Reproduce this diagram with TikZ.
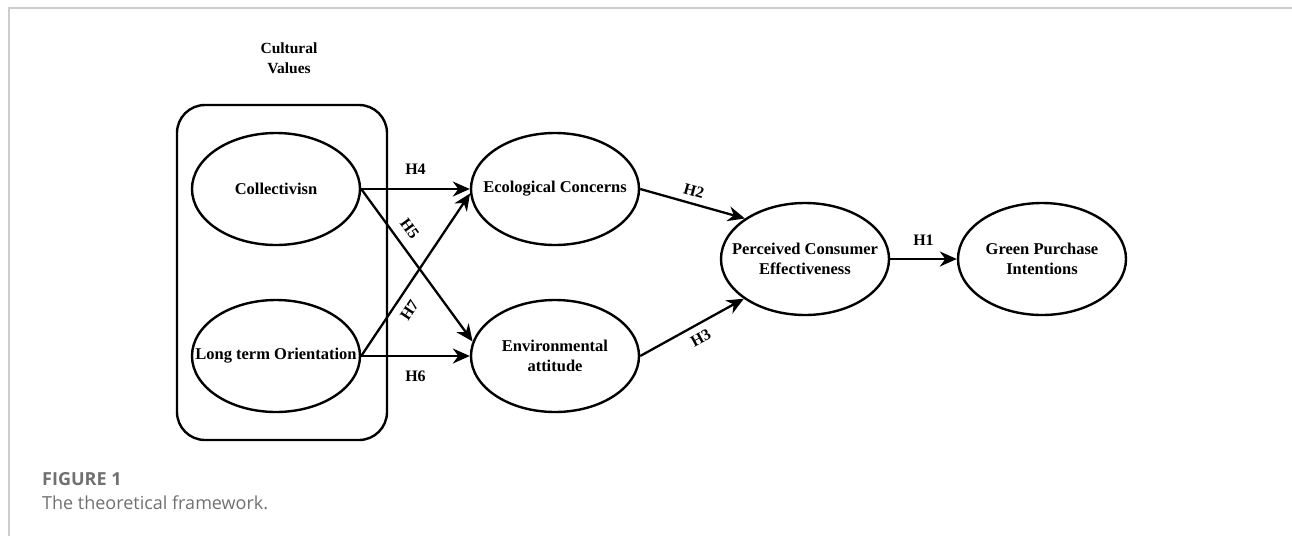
\documentclass[tikz,border=0pt]{standalone}
\usepackage{fontspec}
\setmainfont{Liberation Serif}
\newfontfamily\capfont{Open Sans}
\usetikzlibrary{shapes.geometric,arrows.meta}
\definecolor{framegray}{RGB}{205,205,205}
\definecolor{capgray}{RGB}{112,112,114}

\begin{document}
\begin{tikzpicture}[node distance=167pt, font=\bfseries\fontsize{16.5}{20}\selectfont]

\tikzstyle{el} = [ellipse, minimum width=168pt, minimum height=112pt, inner xsep=-50pt, inner ysep=-12pt, align=center, draw=black, line width=2.4pt]
\tikzstyle{arr} = [-{Stealth[length=17pt,width=15pt]}, line width=2.3pt]
\tikzstyle{hyp} = [font=\bfseries\fontsize{16}{20}\selectfont]
\tikzstyle{captext} = [anchor=base west, inner sep=0pt, text=capgray]

\useasboundingbox (0,0) rectangle (1292pt,-536pt);
\draw[framegray, line width=1.5pt] (9pt,-536pt) -- (9pt,-8pt) -- (1292pt,-8pt);

\node (cult) at (289pt,-58pt) [align=center, font=\bfseries\fontsize{15.5}{20}\selectfont] {Cultural\\Values};
\node (cvbox) at (282pt,-272.5pt) [draw, rounded corners=28pt, minimum width=210pt, minimum height=335pt, line width=2.4pt] {};
\node (coll) at (276pt,-189pt) [el] {Collectivisn};
\node (lto) [el, below of=coll] {Long term Orientation};
\node (eco) [el, right of=coll, node distance=279pt] {Ecological Concerns};
\node (env) [el, below of=eco] {Environmental\\attitude};
\node (perc) [el, right of=eco, node distance=250pt, yshift=-70pt] {Perceived Consumer\\Effectiveness};
\node (green) [el, right of=perc, node distance=237pt] {Green Purchase\\Intentions};

\draw[arr] (coll.east) -- node[hyp, above=10pt] {H4} (eco.west);
\draw[arr] (coll.east) -- node[hyp, sloped, above=6pt, pos=0.32] {H5} (env.170);
\draw[arr] (lto.east) -- node[hyp, sloped, below=5pt, pos=0.33] {H7} (eco.183);
\draw[arr] (lto.east) -- node[hyp, below=10pt] {H6} (env.west);
\draw[arr] (eco.east) -- node[hyp, sloped, above=3pt, pos=0.48] {H2} (perc.146);
\draw[arr] (env.east) -- node[hyp, sloped, below=4pt, pos=0.52] {H3} (perc.213);
\draw[arr] (perc.east) -- node[hyp, above=9pt] {H1} (green.west);

\node (fig) at (42pt,-485pt) [captext, font=\capfont\bfseries\fontsize{18}{22}\selectfont] {FIGURE 1};
\node (capt) at (42pt,-509pt) [captext, font=\capfont\fontsize{18}{22}\selectfont] {The theoretical framework.};
\end{tikzpicture}
\end{document}
